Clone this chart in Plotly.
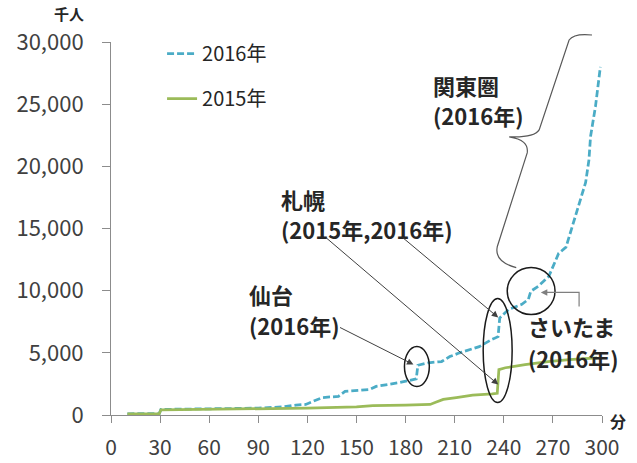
import plotly.graph_objects as go

# Elapsed time (minutes) and cumulative count (thousand persons)
minutes_2016 = [10, 29.5, 30.5, 60, 90, 105, 113, 119, 125, 129, 139, 143, 158, 162,
                176, 186.5, 187.5, 194, 202, 207, 213, 225, 233, 236.5, 237.5, 243,
                251, 255, 256.5, 261, 267.5, 273.5, 278, 282.5, 286, 290, 292, 293,
                296, 299]
count_2016 = [100, 120, 450, 500, 550, 650, 800, 850, 1200, 1400, 1500, 1900, 2050, 2300,
              2600, 2900, 4000, 4200, 4300, 4700, 5000, 5500, 6100, 6300, 7800, 8500,
              8900, 9300, 9950, 10350, 11150, 13000, 13500, 15500, 17100, 18700, 20500, 22400,
              24800, 28000]

minutes_2015 = [10, 29.5, 30.5, 60, 90, 120, 150, 160, 180, 195, 198, 203, 211, 221,
                233, 236, 237, 241, 253, 267, 280, 297]
count_2015 = [100, 120, 420, 450, 500, 550, 650, 750, 800, 850, 1000, 1250, 1400, 1600,
              1700, 1750, 3650, 3800, 4050, 4300, 4450, 4600]

x_ticks = list(range(0, 301, 30))
y_ticks = [0, 5000, 10000, 15000, 20000, 25000, 30000]
y_tick_text = ["0", "5,000", "10,000", "15,000", "20,000", "25,000", "30,000"]

BLUE = "#4BACC6"
GREEN = "#9BBB59"
INK = "#262626"
AXIS = "#8C8C8C"
FONT = "Noto Sans CJK JP"

fig = go.Figure()
fig.add_trace(go.Scatter(x=minutes_2016, y=count_2016, mode="lines", name="2016年",
                         legendgroup="a",
                         line=dict(color=BLUE, width=2.75, dash="7px,3px")))
fig.add_trace(go.Scatter(x=minutes_2015, y=count_2015, mode="lines", name="2015年",
                         legendgroup="b",
                         line=dict(color=GREEN, width=2.75)))

shapes = []
outline = dict(color="#1A1A1A", width=1.5)
# rings around the highlighted jumps
shapes.append(dict(type="circle", xref="x", yref="y", x0=179.3, x1=194.5, y0=2290, y1=5510,
                   line=outline))
shapes.append(dict(type="circle", xref="x", yref="y", x0=227.4, x1=245.1, y0=1000, y1=9370,
                   line=outline))
shapes.append(dict(type="circle", xref="x", yref="y", x0=242.1, x1=271.3, y0=8080, y1=11860,
                   line=outline))

# curly brace spanning the Kanto surge (x in minutes, y in thousand persons)
brace = [("M", 293.9, 30560), ("Q", 282.9, 30720, 279.9, 30160), ("L", 261.6, 22930),
         ("Q", 258.5, 22290, 243.3, 22370), ("Q", 255.5, 22130, 254.3, 21080),
         ("L", 236.0, 13530), ("Q", 234.1, 12330, 247.6, 11850)]
path = ""
for seg in brace:
    cmd, *vals = seg
    pts = [f"{vals[i]},{vals[i + 1] / 30000:.4f}" for i in range(0, len(vals), 2)]
    path += cmd + " ".join(pts) + " "
shapes.append(dict(type="path", xref="x", yref="paper", path=path.strip(),
                   line=dict(color="#595959", width=1.2)))

# elbow leader for Saitama
shapes.append(dict(type="path", xref="x", yref="y",
                   path="M286,8730 L286,9860 L264,9860",
                   line=dict(color="#7F7F7F", width=1.2)))

annotations = []
label_font = dict(family=FONT, size=22, color=INK)


def label(x, y, text):
    annotations.append(dict(x=x, y=y, xref="x", yref="y", text=f"<b>{text}</b>",
                            showarrow=False, xanchor="left", yanchor="middle",
                            font=label_font))


label(195.7, 26560, "関東圏")
label(195.7, 24150, "(2016年)")
label(102.4, 17400, "札幌")
label(102.4, 14990, "(2015年,2016年)")
label(82.9, 9760, "仙台")
label(82.9, 7270, "(2016年)")
label(253.7, 7190, "さいたま")
label(253.7, 4610, "(2016年)")


def arrow(x, y, ax, ay, color="#404040"):
    annotations.append(dict(x=x, y=y, ax=ax, ay=ay, xref="x", yref="y", axref="x",
                            ayref="y", text="", showarrow=True, arrowhead=2,
                            arrowsize=1.3, arrowwidth=1, arrowcolor=color,
                            standoff=0, startstandoff=0))


arrow(184.8, 4060, 139.0, 7100)
arrow(236.6, 2450, 130.5, 14360)
arrow(236.6, 7840, 177.4, 14360)
arrow(262.6, 9860, 268.0, 9860, color="#7F7F7F")

W, H = 637, 463
L, R, T, B = 111, 34.7, 42, 47.5
PW, PH = W - L - R, H - T - B

# unit labels for the two axes, placed in paper coordinates
annotations.append(dict(x=(69 - L) / PW, y=(H - B - 13) / PH, xref="paper", yref="paper",
                        xanchor="center", yanchor="middle", borderpad=0,
                        text="<b>千人</b>", showarrow=False,
                        font=dict(family=FONT, size=15, color=INK)))
annotations.append(dict(x=(618 - L) / PW, y=(H - B - 422) / PH, xref="paper",
                        yref="paper", xanchor="center", yanchor="middle", borderpad=0,
                        text="<b>分</b>", showarrow=False,
                        font=dict(family=FONT, size=16, color=INK)))

fig.update_layout(
    width=W, height=H,
    margin=dict(l=L, r=R, t=T, b=B, pad=0, autoexpand=False),
    paper_bgcolor="white", plot_bgcolor="white",
    font=dict(family=FONT, color="#404040"),
    showlegend=True,
    legend=dict(x=0.104, y=1.021, xanchor="left", yanchor="top",
                font=dict(family=FONT, size=20, color=INK),
                bgcolor="rgba(0,0,0,0)", tracegroupgap=16, itemwidth=30),
    shapes=shapes,
    annotations=annotations,
    xaxis=dict(range=[0, 300], tickvals=x_ticks, showgrid=False, zeroline=False,
               showline=True, linecolor=AXIS, linewidth=1, ticks="outside",
               ticklen=7, tickcolor=AXIS, tickfont=dict(size=21, color="#404040"),
               ticklabelstandoff=7, automargin=False),
    yaxis=dict(range=[0, 30000], tickvals=y_ticks, ticktext=y_tick_text, showgrid=False,
               zeroline=False, showline=True, linecolor=AXIS, linewidth=1,
               ticks="outside", ticklen=8, tickcolor=AXIS,
               tickfont=dict(size=22, color="#404040"), ticklabelstandoff=14,
               automargin=False),
)

fig.write_html("out.html")
